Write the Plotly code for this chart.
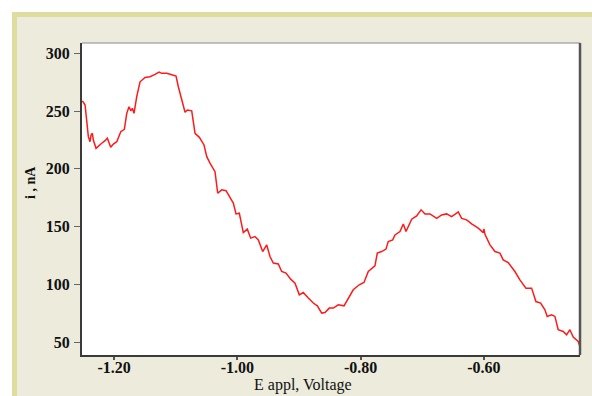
import plotly.graph_objects as go

# Data
e_appl = [-1.2519, -1.2500, -1.2470, -1.2443, -1.2417, -1.2390, -1.2373, -1.2352, -1.2336, -1.2292,
          -1.2255, -1.2200, -1.2146, -1.2109, -1.2054, -1.2011, -1.1956, -1.1891, -1.1833, -1.1794,
          -1.1757, -1.1729, -1.1703, -1.1676, -1.1632, -1.1578, -1.1497, -1.1416, -1.1335, -1.1270,
          -1.1226, -1.1145, -1.1064, -1.0994, -1.0957, -1.0902, -1.0848, -1.0811, -1.0740, -1.0686,
          -1.0616, -1.0540, -1.0496, -1.0443, -1.0362, -1.0318, -1.0253, -1.0183, -1.0118, -1.0065,
          -1.0021, -0.9968, -0.9903, -0.9838, -0.9783, -0.9713, -0.9659, -0.9588, -0.9523, -0.9470,
          -0.9416, -0.9335, -0.9280, -0.9210, -0.9134, -0.9064, -0.8994, -0.8930, -0.8848, -0.8767,
          -0.8702, -0.8631, -0.8578, -0.8508, -0.8443, -0.8362, -0.8269, -0.8200, -0.8119, -0.8021,
          -0.7945, -0.7875, -0.7821, -0.7767, -0.7729, -0.7658, -0.7588, -0.7551, -0.7479, -0.7442,
          -0.7361, -0.7307, -0.7263, -0.7226, -0.7171, -0.7090, -0.7019, -0.6955, -0.6874, -0.6765,
          -0.6685, -0.6604, -0.6523, -0.6441, -0.6415, -0.6360, -0.6279, -0.6198, -0.6091, -0.6010,
          -0.5999, -0.5982, -0.5901, -0.5820, -0.5739, -0.5686, -0.5605, -0.5496, -0.5415, -0.5317,
          -0.5225, -0.5155, -0.5079, -0.5009, -0.4972, -0.4901, -0.4847, -0.4794, -0.4712, -0.4657,
          -0.4604, -0.4550, -0.4469, -0.4441]
current_na = [258.7, 257.9, 255.3, 242.3, 227.9, 223.5, 229.3, 230.8, 225.0, 217.8,
              219.8, 222.2, 224.4, 226.5, 218.7, 221.5, 223.5, 232.2, 234.3, 248.1,
              253.8, 250.3, 252.4, 248.1, 262.5, 275.4, 279.2, 279.8, 281.8, 283.8,
              282.7, 282.7, 281.5, 280.4, 271.1, 261.1, 249.0, 251.0, 250.3, 230.8,
              227.3, 220.7, 210.6, 204.9, 197.6, 178.9, 181.8, 181.1, 174.6, 170.3,
              161.0, 161.6, 144.8, 147.8, 140.0, 141.4, 138.5, 128.4, 134.2, 124.1,
              118.4, 117.7, 111.1, 109.7, 104.5, 101.0, 90.9, 92.9, 88.1, 83.8,
              81.4, 75.1, 75.6, 79.4, 79.4, 82.3, 81.4, 88.1, 95.3, 99.6,
              101.6, 111.1, 114.0, 116.0, 127.0, 128.4, 130.5, 137.0, 138.5, 142.8,
              145.7, 152.3, 145.7, 150.0, 156.4, 159.3, 164.5, 161.0, 161.0, 157.1,
              160.1, 161.0, 158.7, 161.6, 162.7, 157.1, 155.8, 152.3, 148.6, 144.8,
              148.0, 143.3, 134.2, 128.4, 127.0, 121.2, 118.9, 111.1, 103.9, 96.7,
              96.7, 85.1, 83.8, 77.9, 72.2, 73.6, 72.2, 60.7, 59.2, 56.3,
              60.7, 54.3, 50.5, 46.2]

x_tick_vals = [-1.20, -1.00, -0.80, -0.60]
x_tick_text = ["-1.20", "-1.00", "-0.80", "-0.60"]
y_tick_vals = [50, 100, 150, 200, 250, 300]
y_tick_text = ["50", "100", "150", "200", "250", "300"]

PANEL = "#ecebdc"
BAND = "#dedc9e"
TICKFONT = dict(family="Liberation Serif", size=16, color="#111111", weight="bold")

fig = go.Figure()
fig.add_trace(go.Scatter(
    x=e_appl, y=current_na, mode="lines",
    line=dict(color="#ff1a1a", width=1.5),
    showlegend=False, hoverinfo="skip",
))

W, H = 592, 396
L, R, T, B = 82, 580, 43, 355


def px(xp):
    return (xp - L) / (R - L)


def py(yp):
    return (B - yp) / (B - T)


shapes = [
    # white outer strips
    dict(type="rect", xref="paper", yref="paper", x0=px(0), x1=px(W), y0=py(12), y1=py(0),
         fillcolor="white", line=dict(width=0), layer="below"),
    dict(type="rect", xref="paper", yref="paper", x0=px(0), x1=px(12), y0=py(W), y1=py(0),
         fillcolor="white", line=dict(width=0), layer="below"),
    # olive bands
    dict(type="rect", xref="paper", yref="paper", x0=px(12), x1=px(W), y0=py(17), y1=py(12),
         fillcolor=BAND, line=dict(width=0), layer="below"),
    dict(type="rect", xref="paper", yref="paper", x0=px(12), x1=px(17), y0=py(W), y1=py(12),
         fillcolor=BAND, line=dict(width=0), layer="below"),
    # frame top and right
    dict(type="line", xref="paper", yref="paper", x0=0, x1=1, y0=1, y1=1,
         line=dict(color="#8a8a8a", width=1.2)),
    dict(type="line", xref="paper", yref="paper", x0=1, x1=1, y0=0, y1=1,
         line=dict(color="#555555", width=2.5)),
]

fig.update_layout(
    width=W, height=H,
    margin=dict(l=L, r=W - R, t=T, b=H - B),
    paper_bgcolor=PANEL,
    plot_bgcolor="white",
    shapes=shapes,
    xaxis=dict(
        range=[-1.252, -0.444], tickvals=x_tick_vals, ticktext=x_tick_text,
        ticks="outside", ticklen=3, tickcolor="#555555", tickwidth=1.5,
        ticklabelstandoff=-6,
        showgrid=False, zeroline=False,
        showline=True, linecolor="#3a3a3a", linewidth=2,
        tickfont=TICKFONT,
    ),
    yaxis=dict(
        range=[38.8, 309], tickvals=y_tick_vals, ticktext=y_tick_text,
        ticks="outside", ticklen=6, tickcolor="#666666", tickwidth=1.2,
        ticklabelstandoff=1,
        showgrid=False, zeroline=False,
        showline=True, linecolor="#3a3a3a", linewidth=2,
        tickfont=TICKFONT,
    ),
    annotations=[
        dict(text="E appl, Voltage", xref="paper", yref="paper",
             x=px(303), y=py(385), xanchor="center", yanchor="middle", showarrow=False,
             font=dict(family="Liberation Serif", size=16, color="#111111")),
        dict(text="<b>i , nA</b>", xref="paper", yref="paper",
             x=px(30), y=py(183), xanchor="center", yanchor="middle", showarrow=False,
             textangle=-90,
             font=dict(family="Liberation Serif", size=14, color="#111111")),
    ],
)

fig.write_html("out.html")
